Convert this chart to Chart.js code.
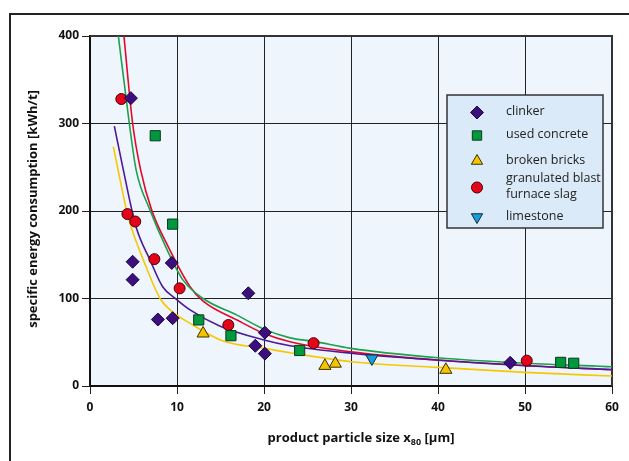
<!DOCTYPE html>
<html>
<head>
<meta charset="utf-8">
<script src="https://cdn.jsdelivr.net/npm/chart.js"></script>
<style>
  body { margin: 0; background: #fff; }
  #wrap { position: relative; width: 629px; height: 461px; }
</style>
</head>
<body>
<div id="wrap"><canvas id="chart"></canvas></div>
<script>
// measured points: particle size x80 [µm] vs specific energy [kWh/t]
const clinkerX  = [4.7, 4.9, 4.9, 9.4, 7.8, 9.5, 18.2, 20.1, 19.0, 20.1, 48.3];
const clinkerY  = [329, 142, 121.5, 140.6, 76, 77.5, 106, 61, 46, 37, 26.5];
const concreteX = [7.5, 9.5, 12.5, 16.2, 24.1, 54.1, 55.6];
const concreteY = [286, 185, 75.5, 57.5, 40.6, 27, 26];
const bricksX   = [13.0, 27.0, 28.2, 40.9];
const bricksY   = [60, 23, 25.5, 18.5];
const slagX     = [3.6, 4.3, 5.2, 7.4, 10.3, 15.9, 25.7, 50.2];
const slagY     = [328, 196.5, 188, 145, 111.6, 69.7, 49, 29];
const limeX     = [32.4];
const limeY     = [31.5];

// fitted curves
const fitClinkerX  = [2.8, 3.83, 5.29, 6.9, 8.35, 10, 11.5, 14.9, 20, 23, 30, 40, 50, 60];
const fitClinkerY  = [297, 247, 182, 144, 113.5, 98.5, 87, 68.6, 52.6, 46, 37.5, 29.5, 23.2, 18.8];
const fitConcreteX = [3.26, 4.52, 5.3, 6.9, 8.8, 10.7, 13, 16.9, 20, 23, 25.7, 30, 40, 50, 60];
const fitConcreteY = [400, 300, 247, 201, 157, 121, 100, 81, 65, 55, 51, 43, 32.3, 26, 22];
const fitBricksX   = [2.68, 3.0, 4.2, 4.79, 6.13, 8.05, 9.2, 11.5, 15.3, 20, 23, 30, 40, 50, 60];
const fitBricksY   = [273.5, 258, 201, 180, 144, 100, 87, 71.6, 51.4, 43, 38, 27.8, 21.3, 15.6, 11.4];
const fitSlagX     = [3.9, 4.9, 5.82, 7.09, 9.0, 11.5, 13, 16.9, 20, 23, 30, 40, 50, 60];
const fitSlagY     = [400, 300, 247, 201, 159, 113.5, 97, 75.4, 60, 50.6, 39, 29.7, 23.4, 18.5];

const xTicks = [0, 10, 20, 30, 40, 50, 60];
const yTicks = [0, 100, 200, 300, 400];

const legendItems = [
  { lines: ['clinker'], style: 'rectRot', fill: '#3d0f7c', stroke: '#1b0740' },
  { lines: ['used concrete'], style: 'rect', fill: '#00983c', stroke: '#0b3a1c' },
  { lines: ['broken bricks'], style: 'triangle', fill: '#f5c400', stroke: '#3a3000' },
  { lines: ['granulated blast', 'furnace slag'], style: 'circle', fill: '#e3061b', stroke: '#4a0006' },
  { lines: ['limestone'], style: 'triangleDown', fill: '#1a9ddb', stroke: '#0a2e40' }
];

const FONT = '"Open Sans", "DejaVu Sans", sans-serif';

function pts(xs, ys) {
  return xs.map((x, i) => ({ x: x, y: ys[i] }));
}

function marker(label, xs, ys, style, fill, stroke, radius, rotation) {
  return {
    type: 'scatter', label: label, data: pts(xs, ys), order: 1,
    pointStyle: style, pointRotation: rotation || 0, pointRadius: radius,
    pointBackgroundColor: fill, pointBorderColor: stroke, pointBorderWidth: 1
  };
}

function curve(label, xs, ys, color) {
  return {
    type: 'line', label: label, data: pts(xs, ys), order: 5,
    borderColor: color, borderWidth: 1.6, pointRadius: 0,
    cubicInterpolationMode: 'monotone', fill: false
  };
}

function drawShape(ctx, style, x, y, r) {
  ctx.beginPath();
  if (style === 'circle') {
    ctx.arc(x, y, r * 0.85, 0, Math.PI * 2);
  } else if (style === 'rect') {
    const s = r * 0.72;
    ctx.rect(x - s, y - s, 2 * s, 2 * s);
  } else if (style === 'rectRot') {
    ctx.moveTo(x, y - r); ctx.lineTo(x + r, y); ctx.lineTo(x, y + r); ctx.lineTo(x - r, y);
    ctx.closePath();
  } else if (style === 'triangle') {
    ctx.moveTo(x, y - r); ctx.lineTo(x + r * 0.87, y + r * 0.5); ctx.lineTo(x - r * 0.87, y + r * 0.5);
    ctx.closePath();
  } else {
    ctx.moveTo(x, y + r); ctx.lineTo(x + r * 0.87, y - r * 0.5); ctx.lineTo(x - r * 0.87, y - r * 0.5);
    ctx.closePath();
  }
  ctx.fill();
  ctx.stroke();
}

const decorations = {
  id: 'decorations',
  beforeDraw(chart) {
    const { ctx, chartArea: a } = chart;
    ctx.save();
    // outer frame
    ctx.strokeStyle = '#222';
    ctx.lineWidth = 2;
    ctx.beginPath();
    ctx.moveTo(10, 470); ctx.lineTo(10, 14); ctx.lineTo(640, 14);
    ctx.stroke();
    // plot background
    ctx.fillStyle = '#eef5fc';
    ctx.fillRect(a.left, a.top, a.right - a.left, a.bottom - a.top);
    ctx.restore();
  },
  beforeDatasetsDraw(chart) {
    const { ctx, chartArea: a } = chart;
    ctx.save();
    ctx.strokeStyle = '#333';
    ctx.lineWidth = 2;
    ctx.beginPath();
    ctx.moveTo(a.left, a.top); ctx.lineTo(a.right, a.top); ctx.lineTo(a.right, a.bottom);
    ctx.stroke();
    ctx.restore();
  },
  afterDraw(chart) {
    const { ctx, chartArea: a } = chart;
    ctx.save();

    // axis titles
    ctx.fillStyle = '#111';
    ctx.font = 'bold 13px ' + FONT;
    ctx.textBaseline = 'middle';
    ctx.save();
    ctx.translate(33, (a.top + a.bottom) / 2 - 2);
    ctx.rotate(-Math.PI / 2);
    ctx.textAlign = 'center';
    ctx.fillText('specific energy consumption [kWh/t]', 0, 0);
    ctx.restore();

    const part1 = 'product particle size x';
    const sub = '80';
    const part2 = ' [\u00b5m]';
    ctx.font = 'bold 13px ' + FONT;
    const w1 = ctx.measureText(part1).width;
    const w3 = ctx.measureText(part2).width;
    ctx.font = 'bold 9px ' + FONT;
    const w2 = ctx.measureText(sub).width;
    let tx = 361 - (w1 + w2 + w3) / 2;
    const ty = 438;
    ctx.textAlign = 'left';
    ctx.font = 'bold 13px ' + FONT;
    ctx.fillText(part1, tx, ty);
    tx += w1;
    ctx.font = 'bold 9px ' + FONT;
    ctx.fillText(sub, tx, ty + 4);
    tx += w2;
    ctx.font = 'bold 13px ' + FONT;
    ctx.fillText(part2, tx, ty);

    // legend box
    const bx = a.right - 165, by = a.top + 59, bw = 156, bh = 133;
    ctx.fillStyle = '#dbeaf8';
    ctx.fillRect(bx, by, bw, bh);
    ctx.strokeStyle = '#333';
    ctx.lineWidth = 1.5;
    ctx.strokeRect(bx, by, bw, bh);

    const rowY = [16.5, 39.5, 65, 91.5, 121];
    ctx.font = '12.5px ' + FONT;
    ctx.textAlign = 'left';
    legendItems.forEach((item, i) => {
      const cy = by + rowY[i];
      ctx.fillStyle = item.fill;
      ctx.strokeStyle = item.stroke;
      ctx.lineWidth = 1;
      drawShape(ctx, item.style, bx + 30, cy + 1, 6.5);
      ctx.fillStyle = '#222';
      if (item.lines.length === 1) {
        ctx.fillText(item.lines[0], bx + 59, cy);
      } else {
        ctx.fillText(item.lines[0], bx + 59, cy - 8);
        ctx.fillText(item.lines[1], bx + 59, cy + 8);
      }
    });
    ctx.restore();
  }
};

new Chart(document.getElementById('chart'), {
  data: {
    datasets: [
      curve('fit clinker', fitClinkerX, fitClinkerY, '#4b1a97'),
      curve('fit used concrete', fitConcreteX, fitConcreteY, '#1aa24c'),
      curve('fit broken bricks', fitBricksX, fitBricksY, '#f7c800'),
      curve('fit slag', fitSlagX, fitSlagY, '#e5062b'),
      marker('clinker', clinkerX, clinkerY, 'rectRot', '#3d0f7c', '#1b0740', 6.5),
      marker('used concrete', concreteX, concreteY, 'rect', '#00983c', '#0b3a1c', 7.2),
      marker('broken bricks', bricksX, bricksY, 'triangle', '#f5c400', '#3a3000', 7),
      marker('granulated blast furnace slag', slagX, slagY, 'circle', '#e3061b', '#4a0006', 5.5),
      marker('limestone', limeX, limeY, 'triangle', '#1a9ddb', '#0a2e40', 7, 180)
    ]
  },
  options: {
    responsive: true,
    maintainAspectRatio: false,
    animation: false,
    layout: { padding: { left: 0, top: 36, right: 17, bottom: 0 } },
    plugins: { legend: { display: false }, tooltip: { enabled: false } },
    scales: {
      x: {
        type: 'linear', min: 0, max: 60,
        afterBuildTicks: s => { s.ticks = xTicks.map(v => ({ value: v })); },
        afterFit: s => { s.height = 75; },
        grid: { color: '#222', lineWidth: 1, tickLength: 8 },
        border: { color: '#111', width: 2 },
        ticks: { color: '#111', padding: 6, font: { family: FONT, size: 12, weight: 'bold' } }
      },
      y: {
        type: 'linear', min: 0, max: 400,
        afterBuildTicks: s => { s.ticks = yTicks.map(v => ({ value: v })); },
        afterFit: s => { s.width = 90; },
        grid: { color: '#222', lineWidth: 1, tickLength: 8 },
        border: { color: '#111', width: 2 },
        ticks: { color: '#111', padding: 3, font: { family: FONT, size: 12, weight: 'bold' } }
      }
    }
  },
  plugins: [decorations]
});
</script>
</body>
</html>
